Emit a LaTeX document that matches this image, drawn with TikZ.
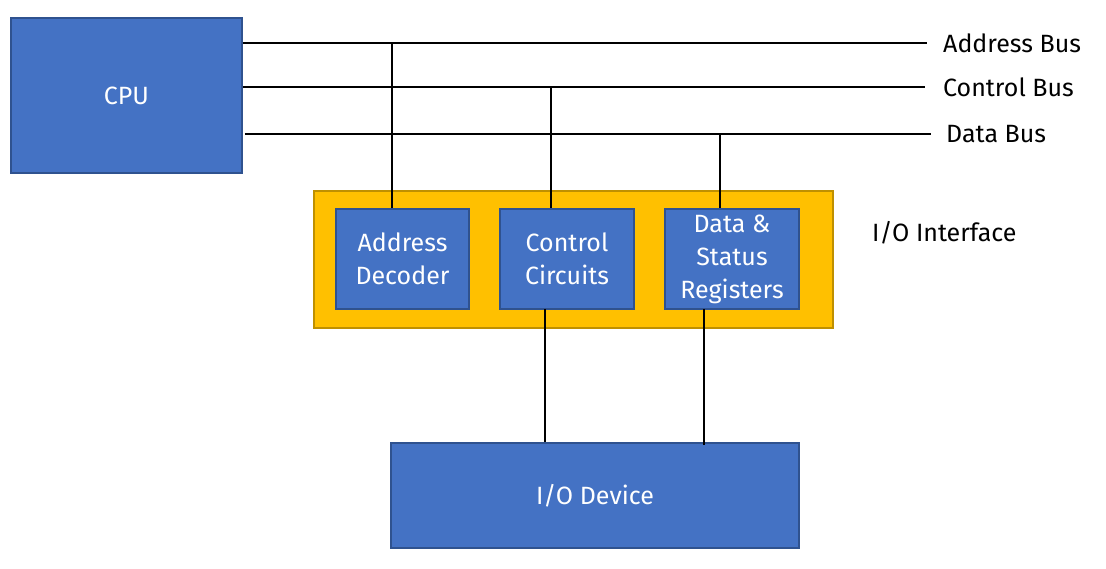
\documentclass[tikz,border=0pt]{standalone}
\usepackage{fontspec}
\setmainfont{Fira Sans}
\definecolor{boxblue}{HTML}{4472C4}
\definecolor{boxedge}{HTML}{2F528F}
\definecolor{ifyellow}{HTML}{FFC000}
\definecolor{ifedge}{HTML}{BF9000}
\begin{document}
\begin{tikzpicture}[x=1pt,y=-1pt,
  bluebox/.style={draw=boxedge,fill=boxblue,line width=1.5pt,text=white,font=\fontsize{25}{33}\selectfont,align=center,inner sep=0pt},
  wire/.style={line width=2.2pt,black},
  lbl/.style={font=\fontsize{25}{30}\selectfont,anchor=west,inner sep=0pt}]
\useasboundingbox (0,0) rectangle (1106,569);
\node[bluebox,minimum width=231pt,minimum height=155pt] (cpu) at (126.5,95.5) {CPU};
\node[draw=ifedge,fill=ifyellow,line width=1.5pt,minimum width=519pt,minimum height=137pt,inner sep=0pt] (iface) at (573.5,259.5) {};
\node[bluebox,minimum width=133pt,minimum height=100pt] (addr) at (402.5,259) {Address\\Decoder};
\node[bluebox,minimum width=134pt,minimum height=100pt] (ctrl) at (567,259) {Control\\Circuits};
\node[bluebox,minimum width=134pt,minimum height=100pt] (data) at (732,259) {Data \&\\Status\\Registers};
\node[bluebox,minimum width=408pt,minimum height=105pt] (dev) at (595,495.5) {I/O Device};
\node[lbl] (abus) at (943,43) {Address Bus};
\node[lbl] (cbus) at (943,87) {Control Bus};
\node[lbl] (dbus) at (946,134) {Data Bus};
\node[lbl] (iflbl) at (872,233) {I/O Interface};
\coordinate (ae) at (927,43);
\coordinate (ce) at (925,87);
\coordinate (de) at (931,134);
\draw[wire] (cpu.east |- ae) -- (ae);
\draw[wire] (cpu.east |- ce) -- (ce);
\draw[wire] ([xshift=2pt]cpu.east |- de) -- (de);
\coordinate (av) at (392,43);
\coordinate (cv) at (551,87);
\coordinate (dv) at (720,134);
\draw[wire] (av) -- (av |- addr.north);
\draw[wire] (cv) -- (cv |- ctrl.north);
\draw[wire] (dv) -- (dv |- data.north);
\coordinate (cl) at (545,309);
\coordinate (dl) at (704,309);
\draw[wire] (cl) -- (cl |- dev.north);
\draw[wire] (dl) -- ([yshift=-3pt]dl |- dev.north);
\end{tikzpicture}
\end{document}
